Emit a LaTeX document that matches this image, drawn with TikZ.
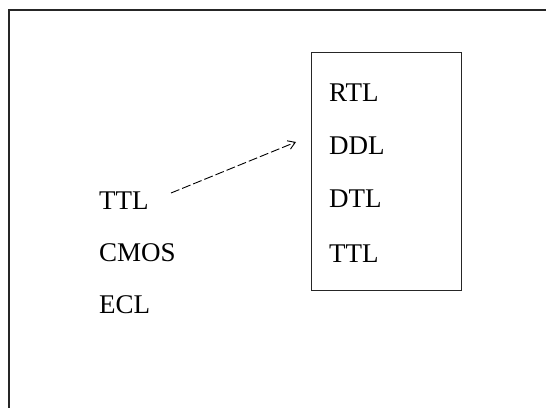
\documentclass[tikz,border=0pt]{standalone}
\usepackage{fontspec}
\setmainfont{Liberation Serif}
\usetikzlibrary{arrows.meta}
\begin{document}
\begin{tikzpicture}[x=1pt,y=-1pt,
  lbl/.style={anchor=base west,inner sep=0pt,font=\fontsize{27}{32}\selectfont},
  frame/.style={draw=black!85,line width=1.4pt},
  link/.style={draw=black,line width=0.9pt,dash pattern=on 9pt off 3pt,-{Straight Barb[length=7pt,width=9pt]}}]
\useasboundingbox (0,0) rectangle (546,407);
\begin{scope}
\clip (0,0) rectangle (546,407);
\draw[frame] (9,10) rectangle (560,420);
\end{scope}
\node[frame,minimum width=150pt,minimum height=238pt,anchor=north west,inner sep=0pt] (box) at (311,52) {};
\node[lbl] (l1) at (99,209) {TTL};
\node[lbl] (l2) at (99,261) {CMOS};
\node[lbl] (l3) at (99,313) {ECL};
\node[lbl] (r1) at (329,101) {RTL};
\node[lbl] (r2) at (329,154) {DDL};
\node[lbl] (r3) at (329,207) {DTL};
\node[lbl] (r4) at (329,262) {TTL};
\coordinate (start) at (171,193);
\coordinate (tip) at (296,142);
\draw[link] (start) -- (tip);
\end{tikzpicture}
\end{document}
